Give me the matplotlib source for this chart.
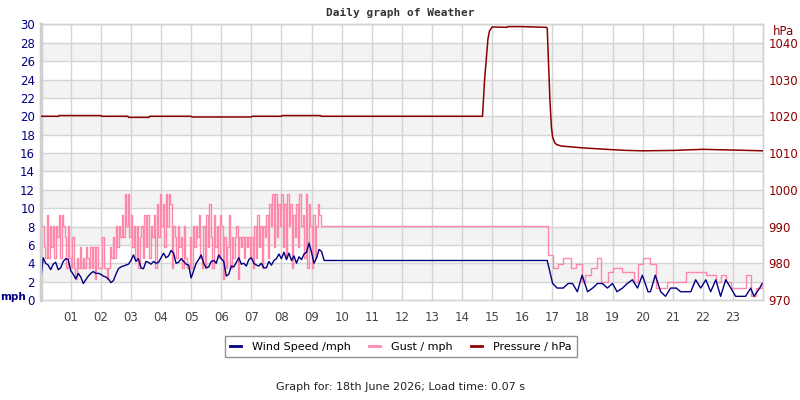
import numpy as np
import matplotlib.pyplot as plt
from matplotlib.lines import Line2D

# wind speed, 5 minute samples from 00:00 to 08:55
wind_early = [
    2.0, 4.6, 4.0, 3.8, 3.3, 3.9, 4.1, 3.3, 3.5, 4.2, 4.5, 4.4,
    3.2, 2.8, 2.3, 2.9, 2.5, 1.8, 2.2, 2.6, 2.9, 3.1, 2.9, 2.9,
    2.8, 2.6, 2.5, 2.3, 1.9, 2.1, 2.8, 3.4, 3.6, 3.7, 3.8, 3.9,
    4.3, 4.9, 4.2, 4.5, 3.5, 3.4, 4.2, 4.1, 3.9, 4.2, 4.0, 4.1,
    4.6, 5.1, 4.6, 4.8, 5.4, 5.1, 4.0, 4.1, 4.5, 4.2, 3.9, 3.8,
    2.4, 3.2, 4.0, 4.4, 4.9, 4.0, 3.5, 3.6, 4.2, 4.3, 4.0, 4.9,
    4.5, 4.2, 2.6, 2.8, 3.7, 3.6, 4.1, 4.6, 3.9, 4.0, 3.7, 4.4,
    4.6, 4.0, 3.8, 3.7, 4.0, 3.5, 3.5, 4.2, 3.8, 4.3, 4.5, 5.0,
    4.5, 5.2, 4.4, 5.1, 4.3, 4.8, 4.0, 4.7, 4.4, 5.0, 5.2, 6.2,
]
# rest of the day, irregular samples (hour, mph)
wind_late_h = [9.0, 9.08, 9.17, 9.25, 9.33, 9.42, 16.83, 17.01, 17.16, 17.36, 17.53,
               17.67, 17.83, 17.99, 18.17, 18.34, 18.50, 18.66, 18.83, 19.00,
               19.15, 19.33, 19.49, 19.66, 19.83, 19.99, 20.18, 20.26, 20.42,
               20.60, 20.76, 20.93, 21.12, 21.26, 21.60, 21.76, 21.93, 22.10,
               22.26, 22.43, 22.59, 22.76, 22.93, 23.09, 23.42, 23.59, 23.70,
               23.89, 23.97]
wind_late = [5.2, 4.0, 4.6, 5.5, 5.3, 4.3, 4.3, 1.8, 1.3, 1.3, 1.8,
             1.8, 0.9, 2.7, 0.9, 1.3, 1.8, 1.8, 1.3, 1.8,
             0.9, 1.3, 1.8, 2.2, 1.3, 2.7, 0.9, 0.9, 2.7,
             0.9, 0.4, 1.3, 1.3, 0.9, 0.9, 2.2, 1.3, 2.2,
             0.9, 2.2, 0.4, 2.2, 1.3, 0.4, 0.4, 1.3, 0.4,
             1.3, 1.8]

# gust, 3 minute samples from 00:00 to 09:15
gust_early = [
    8.1, 8.1, 5.8, 4.6, 9.2, 4.6, 8.1, 5.8, 8.1, 4.6, 8.1, 6.9, 9.2, 4.6, 9.2, 8.1, 6.9, 3.5, 8.1, 4.6,
    3.5, 6.9, 3.5, 2.3, 4.6, 3.5, 5.8, 3.5, 4.6, 3.5, 5.8, 4.6, 3.5, 5.8, 3.5, 5.8, 2.3, 5.8, 3.5, 3.5,
    3.5, 6.9, 3.5, 3.5, 2.3, 3.5, 5.8, 4.6, 6.9, 4.6, 8.1, 5.8, 8.1, 6.9, 9.2, 6.9, 11.5, 8.1, 11.5, 6.9,
    9.2, 5.8, 8.1, 4.6, 8.1, 3.5, 6.9, 8.1, 4.6, 9.2, 5.8, 9.2, 4.6, 8.1, 6.9, 9.2, 3.5, 10.4, 6.9, 11.5,
    8.1, 10.4, 5.8, 11.5, 8.1, 11.5, 10.4, 3.5, 8.1, 6.9, 4.6, 8.1, 5.8, 6.9, 3.5, 8.1, 4.6, 3.5, 3.5, 6.9,
    3.5, 8.1, 5.8, 8.1, 6.9, 9.2, 4.6, 3.5, 8.1, 3.5, 9.2, 5.8, 10.4, 6.9, 3.5, 9.2, 5.8, 8.1, 4.6, 9.2,
    8.1, 2.3, 6.9, 3.5, 5.8, 9.2, 3.5, 6.9, 4.6, 6.9, 8.1, 2.3, 6.9, 5.8, 6.9, 4.6, 6.9, 5.8, 6.9, 4.6,
    6.9, 3.5, 8.1, 4.6, 9.2, 5.8, 8.1, 3.5, 8.1, 6.9, 9.2, 4.6, 10.4, 8.1, 11.5, 5.8, 11.5, 6.9, 10.4, 8.1,
    11.5, 5.8, 10.4, 4.6, 11.5, 8.1, 10.4, 3.5, 9.2, 6.9, 10.4, 5.8, 11.5, 8.1, 9.2, 4.6, 11.5, 3.5, 10.4, 8.1,
    3.5, 9.2, 4.6, 8.1, 10.4, 9.2,
]
gust_late_h = [9.30, 16.83, 16.85, 17.01, 17.20, 17.36, 17.62, 17.80, 17.97, 18.10,
               18.30, 18.50, 18.63, 18.85, 19.00, 19.33, 19.70, 19.83, 20.00, 20.26,
               20.45, 20.80, 21.45, 22.10, 22.43, 22.60, 22.76, 22.93, 23.42, 23.59,
               23.75, 23.97]
gust_late = [8.1, 8.1, 4.9, 3.5, 3.9, 4.6, 3.5, 3.9, 2.0, 2.7,
             3.5, 4.6, 2.0, 3.1, 3.5, 3.1, 2.0, 3.9, 4.6, 3.9,
             1.3, 2.0, 3.1, 2.7, 2.0, 2.7, 2.0, 1.3, 2.7, 0.4,
             1.3, 2.0]

# pressure (hour, hPa)
pres_h = [0.0, 0.6, 0.62, 2.0, 2.02, 2.9, 2.92, 3.6, 3.62, 5.0, 5.02, 6.0, 6.02,
          7.0, 7.02, 8.0, 8.02, 9.3, 9.32, 14.68, 14.75, 14.80, 14.86, 14.91,
          15.0, 15.5, 15.52, 16.0, 16.8, 16.83, 16.88, 16.92, 16.97, 17.01,
          17.08, 17.14, 17.3, 18.0, 19.0, 19.5, 20.0, 21.0, 22.0, 23.0, 24.0]
pres = [1020.0, 1020.0, 1020.2, 1020.2, 1020.0, 1020.0, 1019.7, 1019.7, 1020.0,
        1020.0, 1019.8, 1019.8, 1019.8, 1019.8, 1020.0, 1020.0, 1020.2, 1020.2,
        1020.0, 1020.0, 1030.0, 1035.0, 1041.0, 1043.2, 1044.3, 1044.2, 1044.4,
        1044.4, 1044.2, 1044.0, 1033.0, 1024.3, 1017.0, 1014.3, 1012.8, 1012.3,
        1011.9, 1011.4, 1010.9, 1010.7, 1010.6, 1010.7, 1011.0, 1010.8, 1010.6]

hours = [f'{h:02d}' for h in range(1, 24)]

wind_h = list(np.arange(len(wind_early)) / 12.0) + wind_late_h
wind = wind_early + wind_late
gust_h = list(np.arange(len(gust_early)) / 20.0) + gust_late_h
gust = gust_early + gust_late

NAVY = '#000080'
PINK = '#ff88aa'
DRED = '#8b0000'
GRID = '#d4d4d4'

fig = plt.figure(figsize=(8, 4), dpi=100)
ax = fig.add_axes([0.0508, 0.25, 0.9030, 0.689])
ax.set_xlim(0, 24)
ax.set_ylim(0, 30)

# alternating bands and grid
for lo in range(2, 30, 4):
    ax.axhspan(lo, lo + 2, color='#f3f3f3', zorder=0, lw=0)
for y in range(2, 31, 2):
    ax.axhline(y, color=GRID, lw=1, zorder=1)
for h in range(1, 24):
    ax.axvline(h, color=GRID, lw=1, zorder=1)

ax.plot(gust_h, gust, color=PINK, lw=1, zorder=3, drawstyle='steps-post')
ax.plot(wind_h, wind, color=NAVY, lw=1, zorder=4)

ax2 = ax.twinx()
ax2.set_ylim(970, 1045)
ax2.plot(pres_h, pres, color=DRED, lw=1.1, zorder=5)

ax.set_yticks(range(0, 31, 2))
ax.set_xticks(range(1, 24))
ax.set_xticklabels(hours)
ax.tick_params(axis='y', length=0, labelcolor=NAVY, labelsize=8.5, pad=4)
ax.tick_params(axis='x', length=0, labelcolor='#444444', labelsize=8.5, pad=8)
ax2.set_yticks(range(970, 1041, 10))
ax2.tick_params(axis='y', length=0, labelcolor=DRED, labelsize=8.5, pad=4)

for a in (ax, ax2):
    for s in a.spines.values():
        s.set_color(GRID)
        s.set_linewidth(1)
ax.spines['left'].set_linewidth(2.5)
ax.spines['left'].set_color('#cccccc')

fig.text(0.5, 0.968, 'Daily graph of Weather', ha='center', va='center',
         family='DejaVu Sans Mono', weight='bold', fontsize=8, color='#333333')
fig.text(0.0, 0.258, 'mph', ha='left', va='center', weight='bold',
         fontsize=7.5, color=NAVY)
fig.text(0.993, 0.922, 'hPa', ha='right', va='center', fontsize=8.5, color=DRED)

handles = [Line2D([], [], color=NAVY, lw=2),
           Line2D([], [], color=PINK, lw=2),
           Line2D([], [], color=DRED, lw=2)]
fig.legend(handles, ['Wind Speed /mph', 'Gust / mph', 'Pressure / hPa'],
           loc='center', bbox_to_anchor=(0.501, 0.133), ncol=3, fontsize=8,
           frameon=True, fancybox=False, edgecolor='#777777', handlelength=1.0,
           handletextpad=1.0, columnspacing=1.6, borderpad=0.5)

fig.text(0.5, 0.032, 'Graph for: 18th June 2026; Load time: 0.07 s',
         ha='center', va='center', fontsize=8, color='#222222')

fig.savefig('out.png', dpi=100)
